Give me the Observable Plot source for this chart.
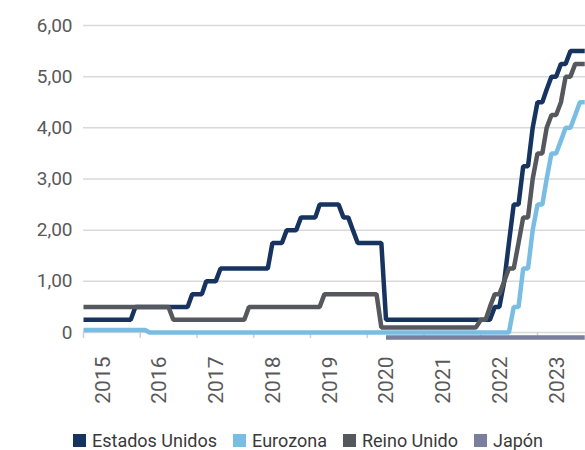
<!DOCTYPE html>
<html><head><meta charset="utf-8">
<script src="https://cdn.jsdelivr.net/npm/d3@7"></script>
<script src="https://cdn.jsdelivr.net/npm/@observablehq/plot@0.6"></script>
<style>
body{margin:0;background:#fff;font-family:Roboto,sans-serif;}
#chart svg{display:block;}
#legend{display:flex;align-items:center;height:20px;padding-left:73px;gap:16px;font-size:18px;color:#3a3a3a;font-family:Roboto,sans-serif;}
.item{display:flex;align-items:center;gap:6px;white-space:nowrap;}
.sw{width:13px;height:13px;display:inline-block;}
</style></head><body>
<div id="chart"></div><div id="legend"></div>
<script>
// Series (monthly values)
const seriesNames = ["Estados Unidos", "Eurozona", "Reino Unido", "Japón"];
const seriesColors = ["#17335f", "#79bde3", "#55585c", "#7b7e9c"];
const yTicks = [0, 1, 2, 3, 4, 5, 6];
const yearLabels = [2015, 2016, 2017, 2018, 2019, 2020, 2021, 2022, 2023];

// month index 0 = Jan 2015
const estadosUnidos = [
  0.25,0.25,0.25,0.25,0.25,0.25,0.25,0.25,0.25,0.25,0.25,0.5,
  0.5,0.5,0.5,0.5,0.5,0.5,0.5,0.5,0.5,0.5,0.5,0.75,
  0.75,0.75,1,1,1,1.25,1.25,1.25,1.25,1.25,1.25,1.25,
  1.25,1.25,1.25,1.25,1.75,1.75,1.75,2,2,2,2.25,2.25,
  2.25,2.25,2.5,2.5,2.5,2.5,2.5,2.25,2.25,2,1.75,1.75,
  1.75,1.75,1.75,1.75,0.25,0.25,0.25,0.25,0.25,0.25,0.25,0.25,
  0.25,0.25,0.25,0.25,0.25,0.25,0.25,0.25,0.25,0.25,0.25,0.25,
  0.25,0.25,0.25,0.5,0.5,1,1.75,2.5,2.5,3.25,3.25,4,
  4.5,4.5,4.75,5,5,5.25,5.25,5.5,5.5,5.5,5.5
];
const eurozona = [
  0.05,0.05,0.05,0.05,0.05,0.05,0.05,0.05,0.05,0.05,0.05,0.05,
  0.05,0.05,0,0,0,0,0,0,0,0,0,0,
  0,0,0,0,0,0,0,0,0,0,0,0,
  0,0,0,0,0,0,0,0,0,0,0,0,
  0,0,0,0,0,0,0,0,0,0,0,0,
  0,0,0,0,0,0,0,0,0,0,0,0,
  0,0,0,0,0,0,0,0,0,0,0,0,
  0,0,0,0,0,0,0,0.5,0.5,1.25,1.25,2,
  2.5,2.5,3,3.5,3.5,3.75,4,4,4.25,4.5,4.5
];
const reinoUnido = [
  0.5,0.5,0.5,0.5,0.5,0.5,0.5,0.5,0.5,0.5,0.5,0.5,
  0.5,0.5,0.5,0.5,0.5,0.5,0.5,0.25,0.25,0.25,0.25,0.25,
  0.25,0.25,0.25,0.25,0.25,0.25,0.25,0.25,0.25,0.25,0.25,0.5,
  0.5,0.5,0.5,0.5,0.5,0.5,0.5,0.5,0.5,0.5,0.5,0.5,
  0.5,0.5,0.5,0.75,0.75,0.75,0.75,0.75,0.75,0.75,0.75,0.75,
  0.75,0.75,0.75,0.1,0.1,0.1,0.1,0.1,0.1,0.1,0.1,0.1,
  0.1,0.1,0.1,0.1,0.1,0.1,0.1,0.1,0.1,0.1,0.1,0.1,
  0.25,0.25,0.5,0.75,0.75,1,1.25,1.25,1.75,2.25,2.25,3,
  3.5,3.5,4,4.25,4.25,4.5,5,5,5.25,5.25,5.25
];
const japonInicio = 64; // May 2020
const japon = [
  -0.1,-0.1,-0.1,-0.1,-0.1,-0.1,-0.1,-0.1,
  -0.1,-0.1,-0.1,-0.1,-0.1,-0.1,-0.1,-0.1,-0.1,-0.1,-0.1,-0.1,
  -0.1,-0.1,-0.1,-0.1,-0.1,-0.1,-0.1,-0.1,-0.1,-0.1,-0.1,-0.1,
  -0.1,-0.1,-0.1,-0.1,-0.1,-0.1,-0.1,-0.1,-0.1,-0.1,-0.1
];

const seriesValues = [estadosUnidos, eurozona, reinoUnido, japon];
const seriesStart = [0, 0, 0, japonInicio];

const table = [];
seriesValues.forEach((vals, i) => {
  vals.forEach((v, k) => {
    const m = seriesStart[i] + k;
    table.push({serie: seriesNames[i], date: new Date(Date.UTC(2015, m, 1)), value: v});
  });
});

const fmt = d => d === 0 ? "0" : d.toFixed(2).replace(".", ",");
const yearStarts = yearLabels.map(y => new Date(Date.UTC(y, 0, 1)));
const yearMids = yearLabels.map(y => ({year: y, date: new Date(Date.UTC(y, 6, 1))}));

const chart = Plot.plot({
  width: 585,
  height: 430,
  marginLeft: 83,
  marginRight: 0,
  marginTop: 25,
  marginBottom: 98,
  style: {fontFamily: "Roboto, sans-serif", fontSize: "19px", color: "#595959", background: "#fff"},
  x: {type: "utc", domain: [new Date(Date.UTC(2015, 0, 1)), new Date(Date.UTC(2023, 10, 6))], axis: null},
  y: {domain: [0, 6], axis: null},
  color: {domain: seriesNames, range: seriesColors},
  marks: [
    Plot.gridY(yTicks.filter(d => d > 0), {stroke: "#d9d9d9", strokeOpacity: 1, strokeWidth: 1.5}),
    Plot.ruleY([0], {stroke: "#d9d9d9", strokeWidth: 1.5}),
    Plot.axisY(yTicks, {tickSize: 0, tickPadding: 11, tickFormat: fmt, fontSize: 19, fill: "#595959", label: null}),
    Plot.axisX(yearStarts, {tickSize: 6, tickFormat: () => "", stroke: "#cfcfcf", strokeWidth: 1.5, label: null}),
    Plot.text(yearMids, {x: "date", text: d => String(d.year), frameAnchor: "bottom", rotate: -90, textAnchor: "end", dy: 24, dx: -2, fontSize: 21, fill: "#595959"}),
    Plot.lineY(table, {x: "date", y: "value", z: "serie", stroke: "serie", strokeWidth: 4.5, strokeLinejoin: "miter", strokeLinecap: "butt"})
  ]
});
document.getElementById("chart").appendChild(chart);

const legend = document.getElementById("legend");
seriesNames.forEach((n, i) => {
  const it = document.createElement("div");
  it.className = "item";
  const sw = document.createElement("span");
  sw.className = "sw";
  sw.style.background = seriesColors[i];
  const t = document.createElement("span");
  t.textContent = n;
  it.appendChild(sw); it.appendChild(t);
  legend.appendChild(it);
});
</script>
</body></html>
